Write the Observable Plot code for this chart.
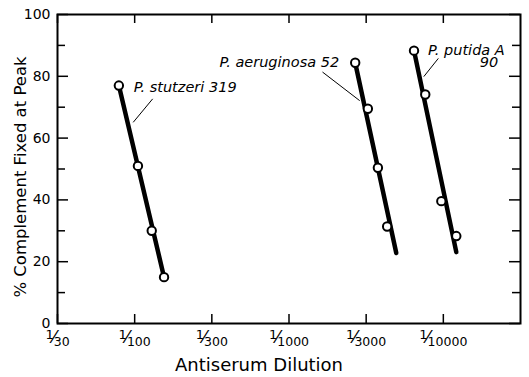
<!DOCTYPE html>
<html>
<head>
<meta charset="utf-8">
<script src="https://cdn.jsdelivr.net/npm/d3@7"></script>
<script src="https://cdn.jsdelivr.net/npm/@observablehq/plot@0.6"></script>
<style>
  html, body { margin: 0; padding: 0; background: #fff; }
  svg { font-family: "DejaVu Sans", sans-serif; }
</style>
</head>
<body>
<div id="chart"></div>
<script>
// Antiserum dilution denominators (1/x) and % complement fixed at peak
const strains = ["P. stutzeri 319", "P. aeruginosa 52", "P. putida A 90"];
const stutzeriDil = [79, 105, 129, 155];
const stutzeriPct = [77, 51, 30, 15];
const aeruginosaDil = [2685, 3243, 3767, 4325];
const aeruginosaPct = [84.4, 69.5, 50.4, 31.4];
const putidaDil = [6457, 7638, 9705, 12134];
const putidaPct = [88.3, 74.1, 39.6, 28.3];

// fitted regression lines (start / end)
const fitDil = [[79, 155], [2685, 4955], [6457, 12134]];
const fitPct = [[77, 15], [84.4, 22.8], [88.3, 23.1]];

// tick labels (ticks are drawn at half-decade spacing)
const xTickValues = [10 ** 1.5, 100, 10 ** 2.5, 1000, 10 ** 3.5, 10000];
const xTickDenoms = ["30", "100", "300", "1000", "3000", "10000"];
const yTickValues = [0, 20, 40, 60, 80, 100];
const yMinorTicks = [10, 30, 50, 70, 90];

// annotation labels and leader lines
const labelText = ["P. stutzeri 319", "P. aeruginosa 52", "P. putida A", "90"];
const labelDil = [98.6, 2113, 7962, 22650];
const labelPct = [76.4, 84.5, 88.3, 84.5];
const labelAnchor = ["start", "end", "start", "end"];
const leaderDil = [[130.3, 98.2], [1656, 2858], [9247, 7499]];
const leaderPct = [[72.6, 65.2], [81.3, 72.2], [85.7, 80.0]];

const seriesDil = [stutzeriDil, aeruginosaDil, putidaDil];
const seriesPct = [stutzeriPct, aeruginosaPct, putidaPct];
const lg = Math.log10;
const points = strains.flatMap((s, i) => seriesDil[i].map((d, j) => ({strain: s, x: lg(d), pct: seriesPct[i][j]})));
const fits = strains.flatMap((s, i) => [0, 1].map(j => ({strain: s, x: lg(fitDil[i][j]), pct: fitPct[i][j]})));
const leaders = strains.flatMap((s, i) => [0, 1].map(j => ({strain: s, x: lg(leaderDil[i][j]), pct: leaderPct[i][j]})));
const labels = labelText.map((t, i) => ({t, x: lg(labelDil[i]), pct: labelPct[i], a: labelAnchor[i]}));
const xTicks = xTickValues.map(lg);

const W = 529, H = 377, mT = 14, mB = 54, mL = 57, mR = 9;
const innerH = H - mT - mB, innerW = W - mL - mR;
const fmtX = d => xTickDenoms[xTicks.findIndex(v => Math.abs(v - d) < 1e-6)];

const chart = Plot.plot({
  width: W, height: H,
  marginTop: mT, marginBottom: mB, marginLeft: mL, marginRight: mR,
  style: {background: "#fff", color: "#000"},
  x: {domain: [1.5, 4.5]},
  y: {domain: [0, 100]},
  marks: [
    Plot.frame({stroke: "#000", strokeWidth: 2}),
    // inward ticks
    Plot.tickX(xTicks, {x: d => d, insetTop: innerH - 9, stroke: "#000", strokeWidth: 1.5}),
    Plot.tickX(xTicks, {x: d => d, insetBottom: innerH - 9, stroke: "#000", strokeWidth: 1.5}),
    Plot.tickY(yTickValues, {y: d => d, insetRight: innerW - 11, stroke: "#000", strokeWidth: 1.5}),
    Plot.tickY(yMinorTicks, {y: d => d, insetRight: innerW - 8, stroke: "#000", strokeWidth: 1.5}),
    Plot.tickY(yTickValues, {y: d => d, insetLeft: innerW - 11, stroke: "#000", strokeWidth: 1.5}),
    Plot.tickY(yMinorTicks, {y: d => d, insetLeft: innerW - 8, stroke: "#000", strokeWidth: 1.5}),
    Plot.axisX(xTicks, {tickSize: 0, tickPadding: 10, fontSize: 13, tickFormat: fmtX, label: null}),
    Plot.axisY(yTickValues, {tickSize: 0, tickPadding: 7, fontSize: 14, label: null}),
    // axis titles
    Plot.text(["Antiserum Dilution"], {frameAnchor: "bottom", textAnchor: "middle", dx: -30, dy: 47, fontSize: 18, text: d => d}),
    Plot.text(["% Complement Fixed at Peak"], {frameAnchor: "left", textAnchor: "middle", dx: -37, dy: 8, rotate: -90, fontSize: 16.5, text: d => d}),
    // fitted lines
    Plot.line(fits, {x: "x", y: "pct", z: "strain", stroke: "#000", strokeWidth: 4.5}),
    // leader lines
    Plot.line(leaders, {x: "x", y: "pct", z: "strain", stroke: "#000", strokeWidth: 1}),
    // data points
    Plot.dot(points, {x: "x", y: "pct", r: 4.2, fill: "#fff", stroke: "#000", strokeWidth: 2}),
    // labels
    Plot.text(labels.filter(d => d.a === "start"), {x: "x", y: "pct", text: "t", textAnchor: "start", fontSize: 14.5, fontStyle: "italic"}),
    Plot.text(labels.filter(d => d.a === "end"), {x: "x", y: "pct", text: "t", textAnchor: "end", fontSize: 14.5, fontStyle: "italic"})
  ]
});
// render tick labels as fractions: superscript 1, slash, subscript denominator
d3.select(chart).selectAll('g[aria-label="x-axis tick label"] text').each(function() {
  const den = this.textContent;
  const t = d3.select(this);
  t.text(null).attr("text-anchor", "middle").attr("dy", 0);
  t.append("tspan").attr("font-size", 13).attr("dy", -4).text("1");
  t.append("tspan").attr("font-size", 18).attr("dy", 4).attr("dx", -1).text("⁄");
  t.append("tspan").attr("font-size", 12.5).attr("dy", 3).attr("dx", -2).text(den);
});
document.getElementById("chart").appendChild(chart);
</script>
</body>
</html>
